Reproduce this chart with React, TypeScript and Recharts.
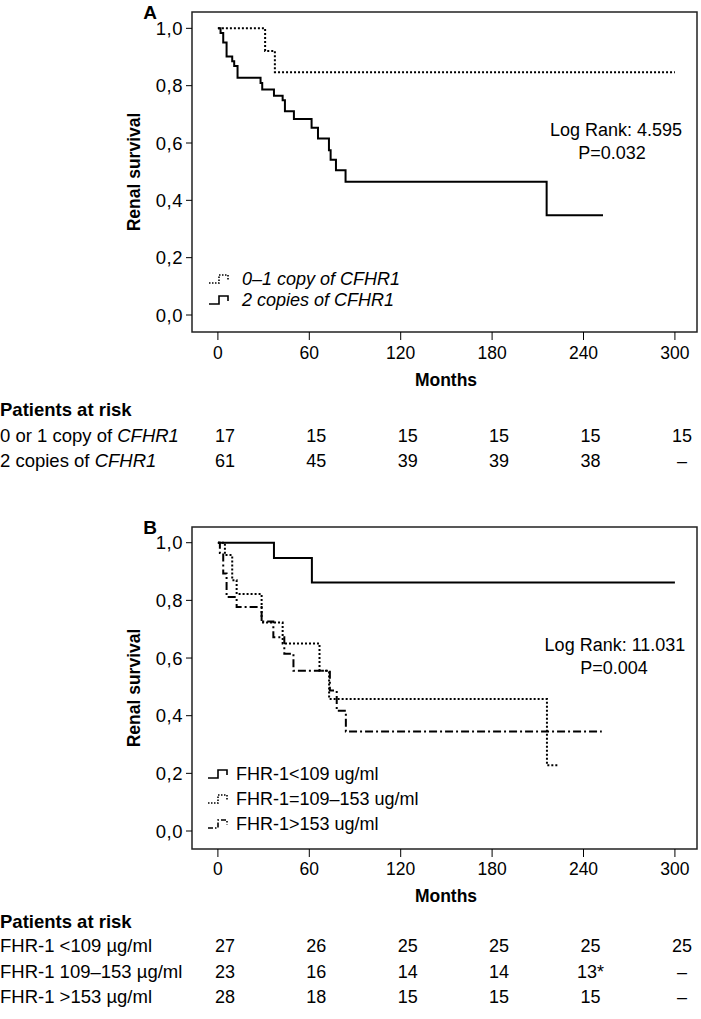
import React from 'react';
import { LineChart, Line, XAxis, YAxis, Legend, ReferenceArea } from 'recharts';

const FONT = '"Liberation Sans", Arial, Helvetica, sans-serif';

// ---------- shared axes ----------
const monthTicks = [0, 60, 120, 180, 240, 300];
const survivalTicks = [0, 0.2, 0.4, 0.6, 0.8, 1.0];
const survivalTickLabels = ['0,0', '0,2', '0,4', '0,6', '0,8', '1,0'];
const monthDomain: [number, number] = [-17, 314.5];
const survivalDomainA: [number, number] = [-0.0593, 1.057];
const survivalDomainB: [number, number] = [-0.0624, 1.0545];

// ---------- Panel A ----------
const aLowCopyMonths = [0, 31, 37.4, 300];
const aLowCopySurv = [1.0, 0.921, 0.847, 0.847];
const aTwoCopyMonths = [0, 1.75, 3.5, 5.7, 9.4, 10.7, 12.9, 28, 29.1, 36.8, 42.5, 44, 49.9, 61.5, 65.7, 72.9, 74, 77.5, 83.8, 215.8, 252.8];
const aTwoCopySurv = [1.0, 0.984, 0.951, 0.902, 0.885, 0.869, 0.828, 0.809, 0.787, 0.765, 0.749, 0.711, 0.684, 0.653, 0.616, 0.575, 0.542, 0.505, 0.465, 0.348, 0.348];
const riskALow = ['17', '15', '15', '15', '15', '15'];
const riskATwo = ['61', '45', '39', '39', '38', '–'];

// ---------- Panel B ----------
const bLowMonths = [0, 36.8, 61.7, 300];
const bLowSurv = [1.0, 0.947, 0.862, 0.862];
const bMidMonths = [0, 4.6, 9.4, 12.3, 28.7, 42.5, 66.7, 73, 216, 223];
const bMidSurv = [1.0, 0.957, 0.870, 0.822, 0.723, 0.650, 0.556, 0.458, 0.228, 0.228];
const bHighMonths = [0, 1.3, 3.5, 5.7, 12.3, 28.7, 36.4, 43.6, 49.6, 73.5, 78, 84, 252];
const bHighSurv = [1.0, 0.964, 0.893, 0.812, 0.777, 0.727, 0.672, 0.615, 0.556, 0.487, 0.417, 0.345, 0.345];
const riskBLow = ['27', '26', '25', '25', '25', '25'];
const riskBMid = ['23', '16', '14', '14', '13*', '–'];
const riskBHigh = ['28', '18', '15', '15', '15', '–'];

const zip = (m: number[], s: number[]) => m.map((v, i) => ({ m: v, s: s[i] }));

const DOT = '2 2';
const DASHDOT = '8 3 2 3';

const T = ({ x, y, anchor = 'start', style, children }: any) => (
  <div
    style={{
      position: 'absolute',
      left: x,
      top: y,
      transform: `translate(${anchor === 'middle' ? '-50%' : anchor === 'end' ? '-100%' : '0'}, -50%)`,
      whiteSpace: 'nowrap',
      fontFamily: FONT,
      fontSize: 18.5,
      lineHeight: 1,
      color: '#000',
      ...style,
    }}
  >
    {children}
  </div>
);

const makeTick = (rows: string[][], rowDy: number[]) => (props: any) => {
  const { x, y, payload } = props;
  const idx = monthTicks.indexOf(payload.value);
  return (
    <g fontFamily={FONT} fontSize={17.5} fill="#000">
      <text x={x} y={y} dy="0.71em" textAnchor="middle" fill="#000">
        {payload.value}
      </text>
      {rows.map((r, i) => (
        <text key={i} x={x + 7} y={y + rowDy[i]} textAnchor="middle" fill="#000" fontSize={18}>
          {r[idx]}
        </text>
      ))}
    </g>
  );
};

const LegendIcon = ({ dash }: { dash?: string }) => (
  <svg width={24} height={14} style={{ display: 'block' }}>
    <path d="M1 11 H11 V3 H20 V8" fill="none" stroke="#000" strokeWidth={1.6} strokeDasharray={dash} />
  </svg>
);

const makeLegend = (items: { label: React.ReactNode; dash?: string }[], gap: number, textLeft: number) => () => (
  <div style={{ fontFamily: FONT, fontSize: 18 }}>
    {items.map((it, i) => (
      <div key={i} style={{ display: 'flex', alignItems: 'center', height: gap }}>
        <LegendIcon dash={it.dash} />
        <span style={{ marginLeft: textLeft, lineHeight: 1 }}>{it.label}</span>
      </div>
    ))}
  </div>
);

const yFmt = (v: number) => survivalTickLabels[survivalTicks.findIndex((t) => Math.abs(t - v) < 1e-6)] ?? '';

const legendA = [
  { label: <i>0–1 copy of CFHR1</i>, dash: '1.5 1.5' },
  { label: <i>2 copies of CFHR1</i> },
];
const legendB = [
  { label: 'FHR-1<109 ug/ml' },
  { label: 'FHR-1=109–153 ug/ml', dash: '1.5 1.5' },
  { label: 'FHR-1>153 ug/ml', dash: '5 2 1.5 2' },
];

const yTickStyle = { fill: '#000', fontSize: 18.5, fontFamily: FONT, letterSpacing: 0.5 };

export default function App() {
  return (
    <div style={{ position: 'absolute', left: 0, top: 0, width: 701, height: 1019, background: '#fff', overflow: 'hidden' }}>
      {/* Panel A */}
      <div style={{ position: 'absolute', left: 0, top: 0 }}>
        <LineChart width={701} height={480} margin={{ top: 12, right: 4, left: 132, bottom: 0 }}>
          <XAxis
            type="number"
            dataKey="m"
            domain={monthDomain}
            ticks={monthTicks}
            allowDataOverflow
            axisLine={false}
            tickSize={8}
            tickMargin={7}
            height={148}
            stroke="#000"
            tick={makeTick([riskALow, riskATwo], [95, 120])}
            interval={0}
          />
          <YAxis
            type="number"
            domain={survivalDomainA}
            ticks={survivalTicks}
            allowDataOverflow
            axisLine={false}
            tickSize={6}
            tickMargin={3}
            width={60}
            stroke="#000"
            tickFormatter={yFmt}
            tick={yTickStyle}
            interval={0}
          />
          <ReferenceArea x1={monthDomain[0]} x2={monthDomain[1]} y1={survivalDomainA[0]} y2={survivalDomainA[1]} fill="none" stroke="#222" strokeWidth={1.5} ifOverflow="visible" />
          <Line data={zip(aLowCopyMonths, aLowCopySurv)} dataKey="s" name="0–1 copy of CFHR1" type="stepAfter" stroke="#000" strokeWidth={2} strokeDasharray={DOT} dot={false} isAnimationActive={false} />
          <Line data={zip(aTwoCopyMonths, aTwoCopySurv)} dataKey="s" name="2 copies of CFHR1" type="stepAfter" stroke="#000" strokeWidth={2} dot={false} isAnimationActive={false} />
          <Legend layout="vertical" align="center" verticalAlign="middle" wrapperStyle={{ left: 208, top: 268, width: 'auto', height: 'auto' }} content={makeLegend(legendA, 21, 10)} />
        </LineChart>
      </div>

      {/* Panel B */}
      <div style={{ position: 'absolute', left: 0, top: 514 }}>
        <LineChart width={701} height={505} margin={{ top: 13, right: 4, left: 132, bottom: 0 }}>
          <XAxis
            type="number"
            dataKey="m"
            domain={monthDomain}
            ticks={monthTicks}
            allowDataOverflow
            axisLine={false}
            tickSize={8}
            tickMargin={6}
            height={170}
            stroke="#000"
            tick={makeTick([riskBLow, riskBMid, riskBHigh], [89, 115, 140])}
            interval={0}
          />
          <YAxis
            type="number"
            domain={survivalDomainB}
            ticks={survivalTicks}
            allowDataOverflow
            axisLine={false}
            tickSize={6}
            tickMargin={3}
            width={60}
            stroke="#000"
            tickFormatter={yFmt}
            tick={yTickStyle}
            interval={0}
          />
          <ReferenceArea x1={monthDomain[0]} x2={monthDomain[1]} y1={survivalDomainB[0]} y2={survivalDomainB[1]} fill="none" stroke="#222" strokeWidth={1.5} ifOverflow="visible" />
          <Line data={zip(bLowMonths, bLowSurv)} dataKey="s" name="FHR-1<109 ug/ml" type="stepAfter" stroke="#000" strokeWidth={2} dot={false} isAnimationActive={false} />
          <Line data={zip(bMidMonths, bMidSurv)} dataKey="s" name="FHR-1=109–153 ug/ml" type="stepAfter" stroke="#000" strokeWidth={2} strokeDasharray={DOT} dot={false} isAnimationActive={false} />
          <Line data={zip(bHighMonths, bHighSurv)} dataKey="s" name="FHR-1>153 ug/ml" type="stepAfter" stroke="#000" strokeWidth={2} strokeDasharray={DASHDOT} dot={false} isAnimationActive={false} />
          <Legend layout="vertical" align="center" verticalAlign="middle" wrapperStyle={{ left: 207, top: 247, width: 'auto', height: 'auto' }} content={makeLegend(legendB, 25, 5)} />
        </LineChart>
      </div>

      {/* Static labels */}
      <T x={150} y={12} anchor="middle" style={{ fontWeight: 'bold', fontSize: 19 }}>A</T>
      <T x={150} y={527} anchor="middle" style={{ fontWeight: 'bold', fontSize: 19 }}>B</T>

      <T x={134.5} y={172} anchor="middle" style={{ fontWeight: 'bold', fontSize: 17.5, transform: 'translate(-50%, -50%) rotate(-90deg)' }}>Renal survival</T>
      <T x={134.5} y={688} anchor="middle" style={{ fontWeight: 'bold', fontSize: 17.5, transform: 'translate(-50%, -50%) rotate(-90deg)' }}>Renal survival</T>

      <T x={446} y={381} anchor="middle" style={{ fontWeight: 'bold', fontSize: 17.5 }}>Months</T>
      <T x={446} y={897} anchor="middle" style={{ fontWeight: 'bold', fontSize: 17.5 }}>Months</T>

      <T x={616} y={130} anchor="middle" style={{ fontSize: 18 }}>Log Rank: 4.595</T>
      <T x={612} y={153} anchor="middle" style={{ fontSize: 18 }}>P=0.032</T>
      <T x={615} y={645} anchor="middle" style={{ fontSize: 18 }}>Log Rank: 11.031</T>
      <T x={614} y={668} anchor="middle" style={{ fontSize: 18 }}>P=0.004</T>

      <T x={0} y={410} style={{ fontWeight: 'bold' }}>Patients at risk</T>
      <T x={0} y={436}>0 or 1 copy of <i>CFHR1</i></T>
      <T x={0} y={461}>2 copies of <i>CFHR1</i></T>

      <T x={0} y={922} style={{ fontWeight: 'bold' }}>Patients at risk</T>
      <T x={0} y={946}>FHR-1 &lt;109 µg/ml</T>
      <T x={0} y={972}>FHR-1 109–153 µg/ml</T>
      <T x={0} y={997}>FHR-1 &gt;153 µg/ml</T>
    </div>
  );
}
